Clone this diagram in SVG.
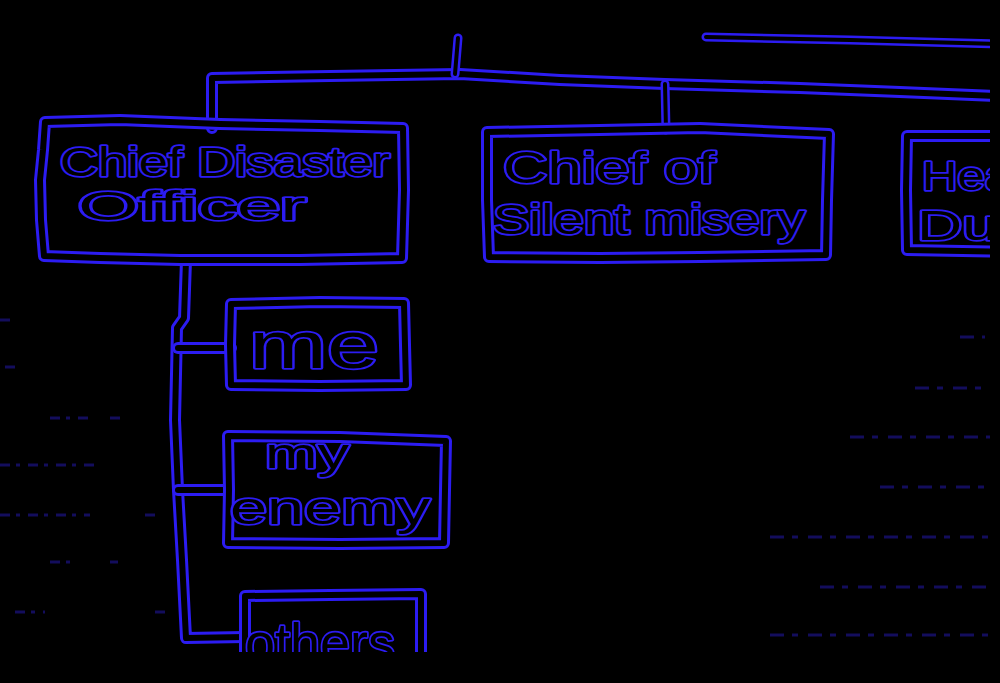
<svg xmlns="http://www.w3.org/2000/svg" width="1000" height="683" viewBox="0 0 1000 683">
<style>
.o{fill:none;stroke:#2c1cf2;stroke-width:12;stroke-linejoin:round;stroke-linecap:round}
.i{fill:none;stroke:#000;stroke-width:6;stroke-linejoin:round;stroke-linecap:round}
.ot{fill:none;stroke:#2c1cf2;stroke-width:9;stroke-linejoin:round;stroke-linecap:round}
.it{fill:none;stroke:#000;stroke-width:4;stroke-linejoin:round;stroke-linecap:round}
.t{font-family:"Liberation Sans",Arial,sans-serif;fill:#000;stroke:#2c1cf2;stroke-width:3.5;paint-order:stroke;stroke-linejoin:round}
.n{fill:none;stroke:#2a1ccc;stroke-width:3;opacity:0.45}
</style>
<defs>
<clipPath id="frame"><rect x="0" y="0" width="990" height="652"/></clipPath>
<path id="b1" d="M45,122 L120,120 L220,124 L320,126 L403,128 L404,190 L402,258 L300,260 L180,260 L100,258 L44,256 L41,220 L40,180 L43,150 Z"/>
<path id="b2" d="M487,132 L600,130 L700,128 L829,134 L827,200 L826,255 L700,257 L600,258 L489,257 L487,200 Z"/>
<path id="b3" d="M1010,136 L907,136 L906,190 L907,250 L1010,252"/>
<path id="b4" d="M231,304 L320,302 L404,303 L405,345 L406,385 L320,386 L231,385 L230,345 Z"/>
<path id="b5" d="M228,436 L340,437 L446,441 L445,490 L444,543 L340,544 L228,543 L229,490 Z"/>
<path id="b6" d="M245,680 L245,640 L245,596 L330,595 L421,594 L421,640 L421,680"/>
<path id="c1" d="M212,128 L212,78 L330,76 L460,74 L560,80 L665,84 L800,88 L900,92 L995,96"/>
<path id="c2" d="M665,84 L666,130"/>
<path id="c3" d="M186,260 L184,318 L177,328 L175,420 L178,490 L182,560 L186,638 L245,637"/>
<path id="c4" d="M178,348 L231,348"/>
<path id="c5" d="M178,490 L228,490"/>
<path id="c6" d="M458,38 L455,74"/>
<path id="c7" d="M706,37 L850,40 L995,44"/>
</defs>
<rect width="1000" height="683" fill="#000"/>
<g clip-path="url(#frame)">
<g id="scan-noise">
<path class="n" d="M0,320 L10,320 M5,367 L20,367 M50,418 L90,418 M110,418 L120,418 M0,465 L100,465 M0,515 L90,515 M145,515 L160,515 M50,562 L70,562 M110,562 L118,562 M15,612 L45,612 M155,612 L165,612" stroke-dasharray="10 6 4 8"/>
<path class="n" d="M960,337 L985,337 M915,388 L985,388 M850,437 L990,437 M880,487 L985,487 M770,537 L990,537 M820,587 L990,587 M770,635 L990,635" stroke-dasharray="14 8 6 10"/>
</g>
<g id="connectors">
<use href="#c1" class="o"/><use href="#c1" class="i"/>
<use href="#c2" class="ot"/><use href="#c2" class="it"/>
<use href="#c3" class="o"/><use href="#c3" class="i"/>
<use href="#c4" class="o"/><use href="#c4" class="i"/>
<use href="#c5" class="o"/><use href="#c5" class="i"/>
<use href="#c6" class="ot"/><use href="#c6" class="it"/>
<use href="#c7" class="ot"/><use href="#c7" class="it"/>
</g>
<g id="chief-disaster-officer">
<use href="#b1" class="o"/><use href="#b1" class="i"/>
<text class="t" x="60" y="176" font-size="40" textLength="330" lengthAdjust="spacingAndGlyphs">Chief Disaster</text>
<text class="t" x="78" y="220" font-size="40" textLength="228" lengthAdjust="spacingAndGlyphs">Officer</text>
</g>
<g id="chief-of-silent-misery">
<use href="#b2" class="o"/><use href="#b2" class="i"/>
<text class="t" x="503" y="183" font-size="44" textLength="212" lengthAdjust="spacingAndGlyphs">Chief of</text>
<text class="t" x="493" y="234" font-size="42" textLength="312" lengthAdjust="spacingAndGlyphs">Silent misery</text>
</g>
<g id="head-du">
<use href="#b3" class="o"/><use href="#b3" class="i"/>
<text class="t" x="922" y="190" font-size="40" textLength="90" lengthAdjust="spacingAndGlyphs">Hea</text>
<text class="t" x="917" y="240" font-size="42" textLength="80" lengthAdjust="spacingAndGlyphs">Du</text>
</g>
<g id="me">
<use href="#b4" class="o"/><use href="#b4" class="i"/>
<text class="t" x="249" y="368" font-size="66" textLength="130" lengthAdjust="spacingAndGlyphs">me</text>
</g>
<g id="my-enemy">
<use href="#b5" class="o"/><use href="#b5" class="i"/>
<text class="t" x="265" y="468" font-size="42" textLength="84" lengthAdjust="spacingAndGlyphs">my</text>
<text class="t" x="230" y="524" font-size="46" textLength="200" lengthAdjust="spacingAndGlyphs">enemy</text>
</g>
<g id="others">
<use href="#b6" class="o"/><use href="#b6" class="i"/>
<text class="t" x="245" y="662" font-size="56" textLength="150" lengthAdjust="spacingAndGlyphs">others</text>
</g>
</g>
</svg>
